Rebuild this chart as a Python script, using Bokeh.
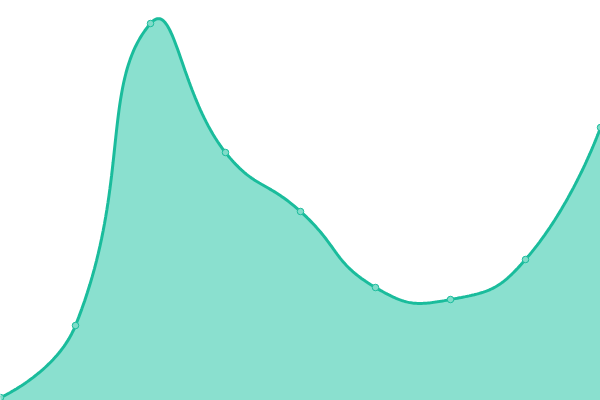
import numpy as np
from bokeh.plotting import figure
from bokeh.models import Range1d
from bokeh.embed import file_html
from bokeh.resources import INLINE

# data
x_index = [0, 1, 2, 3, 4, 5, 6, 7, 8]
values = [3, 75, 377, 248, 189, 113, 101, 141, 273]

LINE = "#1abc9c"
AREA = "#8ae0cf"
SMOOTH = 0.5
XSCALE = 75.0  # screen px per category step (y already ~1 px per unit)

def smooth_curve(xs, ys, n=50):
    pts = np.column_stack([np.asarray(xs, float) * XSCALE, np.asarray(ys, float)])
    k = len(pts)
    cps = []
    for i in range(k):
        if i == 0 or i == k - 1:
            cps.append(pts[i].copy())
            continue
        prev, cur, nxt = pts[i - 1], pts[i], pts[i + 1]
        v = (nxt - prev) * SMOOTH
        d0 = np.hypot(*(cur - prev))
        d1 = np.hypot(*(nxt - cur))
        s = d0 + d1
        if s:
            d0 /= s
            d1 /= s
        cps.append(cur - v * d0)
        cps.append(cur + v * d1)
    ox, oy = [], []
    for i in range(k - 1):
        p0 = pts[i]
        c1 = cps[2 * i]
        c2 = cps[2 * i + 1]
        p3 = pts[i + 1]
        t = np.linspace(0, 1, n, endpoint=(i == k - 2))[:, None]
        b = ((1 - t) ** 3) * p0 + 3 * ((1 - t) ** 2) * t * c1 + 3 * (1 - t) * t**2 * c2 + t**3 * p3
        ox.extend(b[:, 0] / XSCALE)
        oy.extend(b[:, 1])
    return np.array(ox), np.array(oy)

cx, cy = smooth_curve(x_index, values)

p = figure(width=600, height=400, output_backend="svg", toolbar_location=None,
           x_range=Range1d(0, 8), y_range=Range1d(0, 400),
           min_border=0, min_border_left=0, min_border_right=0,
           min_border_top=0, min_border_bottom=0)
p.axis.visible = False
p.grid.visible = False
p.outline_line_color = None
p.background_fill_color = "white"
p.border_fill_color = "white"

p.varea(x=cx, y1=np.zeros_like(cy), y2=cy, fill_color=AREA, fill_alpha=1.0)
p.line(cx, cy, line_color=LINE, line_width=3)
p.scatter(x_index, values, size=6.5, fill_color="#80dcc9", line_color=LINE,
          line_width=1)

open("out.html", "w").write(file_html(p, INLINE))
